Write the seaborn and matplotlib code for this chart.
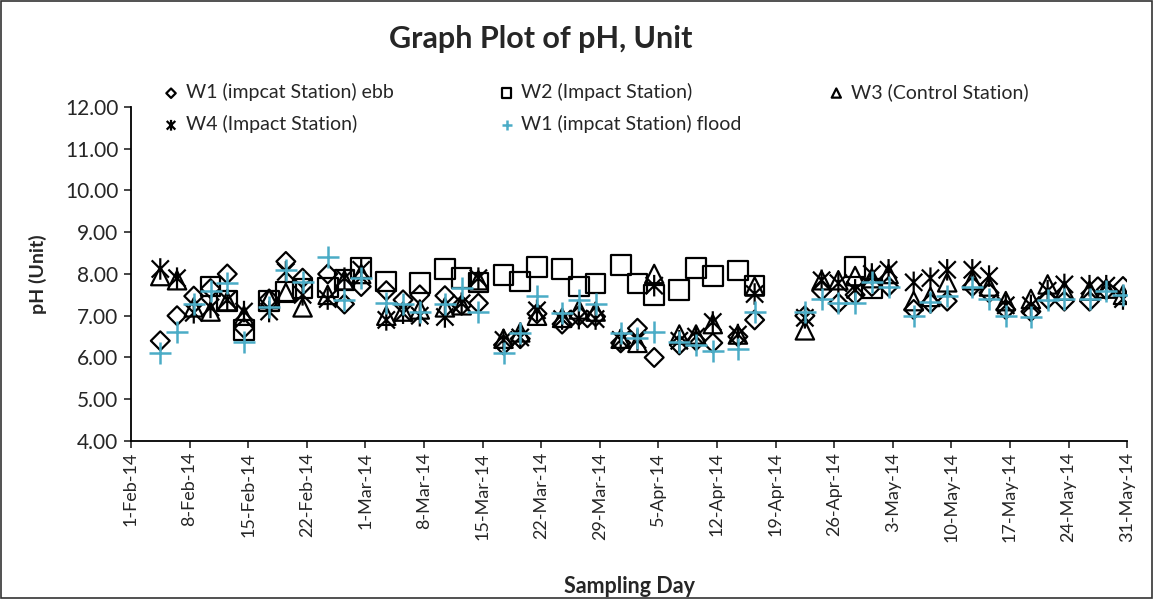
import numpy as np
import pandas as pd
import matplotlib
matplotlib.use("Agg")
import matplotlib.pyplot as plt
import matplotlib.dates as mdates
from matplotlib.path import Path
from matplotlib.patches import Rectangle
from matplotlib.ticker import FormatStrFormatter
import seaborn as sns

nan = np.nan

dates = ["2014-02-04", "2014-02-06", "2014-02-08", "2014-02-10", "2014-02-12", "2014-02-14",
         "2014-02-17", "2014-02-19", "2014-02-21", "2014-02-24", "2014-02-26", "2014-02-28",
         "2014-03-03", "2014-03-05", "2014-03-07", "2014-03-10", "2014-03-12", "2014-03-14",
         "2014-03-17", "2014-03-19", "2014-03-21", "2014-03-24", "2014-03-26", "2014-03-28",
         "2014-03-31", "2014-04-02", "2014-04-04", "2014-04-07", "2014-04-09", "2014-04-11",
         "2014-04-14", "2014-04-16", "2014-04-22", "2014-04-24", "2014-04-26", "2014-04-28",
         "2014-04-30", "2014-05-02", "2014-05-05", "2014-05-07", "2014-05-09", "2014-05-12",
         "2014-05-14", "2014-05-16", "2014-05-19", "2014-05-21", "2014-05-23", "2014-05-26",
         "2014-05-28", "2014-05-30"]

w1_ebb = [6.40, 7.00, 7.47, 7.65, 8.00, 6.70, 7.40, 8.30, 7.90, 8.00, 7.28, 7.70,
          7.60, 7.38, 7.50, 7.48, 7.25, 7.30, 6.30, 6.45, 7.05, 6.80, 7.00, 6.98,
          6.35, 6.70, 6.00, 6.30, 6.40, 6.35, 6.50, 6.90, 7.00, 7.60, 7.30, 7.50,
          7.70, 7.70, 7.15, 7.30, 7.35, 7.70, 7.55, 7.15, 7.10, 7.40, 7.35, 7.35,
          7.62, 7.70]

w2_impact = [nan, nan, nan, 7.70, 7.35, 6.66, 7.35, 7.58, 7.65, 7.68, 7.85, 8.15,
             7.82, nan, 7.78, 8.12, 7.90, 7.80, 7.97, 7.82, 8.17, 8.12, 7.70, 7.77,
             8.22, 7.77, 7.50, 7.62, 8.15, 7.95, 8.08, 7.72, nan, nan, nan, 8.17,
             7.65, nan, nan, nan, nan, nan, nan, nan, nan, nan, nan, nan,
             nan, nan]

w3_control = [7.95, 7.85, 7.20, 7.10, 7.35, 7.00, 7.40, 7.55, 7.20, 7.50, 7.85, 8.00,
              7.00, 7.10, 7.15, 7.20, 7.25, 7.85, 6.45, 6.60, 7.00, 6.95, 7.15, 7.10,
              6.45, 6.35, 8.00, 6.55, 6.55, 6.80, 6.55, 7.70, 6.65, 7.85, 7.85, 7.95,
              7.90, 8.00, 7.35, 7.45, 7.80, 7.85, 7.70, 7.35, 7.40, 7.75, 7.60, 7.60,
              7.65, 7.50]

w4_impact = [8.12, 7.90, 7.07, 7.20, 7.38, 7.10, 7.10, 8.05, 7.50, 7.40, 7.90, 8.10,
             6.90, 7.06, 7.00, 6.97, 7.30, 7.90, 6.42, 6.48, 7.13, 6.92, 6.93, 6.92,
             6.42, 6.42, 7.72, 6.40, 6.50, 6.85, 6.55, 7.52, 6.95, 7.85, 7.78, 7.62,
             8.00, 8.10, 7.80, 7.90, 8.10, 8.10, 7.95, 7.25, 7.25, 7.60, 7.75, 7.72,
             7.72, 7.40]

w1_flood = [6.10, 6.60, 7.28, 7.60, 7.78, 6.38, 7.20, 8.10, 7.80, 8.40, 7.38, 7.90,
            7.30, 7.28, 7.10, 7.28, 7.67, 7.10, 6.10, 6.58, 7.48, 7.07, 7.38, 7.28,
            6.58, 6.47, 6.60, 6.38, 6.30, 6.15, 6.20, 7.10, 7.08, 7.40, 7.30, 7.30,
            7.80, 7.68, 7.00, 7.32, 7.47, 7.68, 7.40, 7.00, 6.98, 7.38, 7.40, 7.40,
            7.60, 7.50]

labels = ["W1 (impcat Station) ebb", "W2 (Impact Station)", "W3 (Control Station)",
          "W4 (Impact Station)", "W1 (impcat Station) flood"]

yticks = [4, 5, 6, 7, 8, 9, 10, 11, 12]

sns.set_style("white")
plt.rcParams["font.family"] = ["Lato", "DejaVu Sans"]

fig = plt.figure(figsize=(11.53, 5.99), dpi=100)
ax = fig.add_axes([0.1136, 0.2638, 0.864, 0.5576])

# Excel places points in the middle of each day slot
x = pd.to_datetime(pd.Series(dates)) + pd.Timedelta(hours=12)

star = Path([(-1, -1), (1, 1), (-1, 1), (1, -1), (0, -1.25), (0, 1.25)],
            [Path.MOVETO, Path.LINETO] * 3)

cyan = "#4BACC6"
specs = [
    (w1_ebb, "D", 92, "black"),
    (w2_impact, "s", 200, "black"),
    (w3_control, "^", 175, "black"),
    (w4_impact, star, 240, "black"),
    (w1_flood, "+", 240, cyan),
]

for (vals, mk, size, col), lab in zip(specs, labels):
    d = pd.DataFrame({"date": x, "ph": vals}).dropna()
    if col == cyan:
        sns.scatterplot(data=d, x="date", y="ph", marker=mk, s=size, color=cyan,
                        linewidth=1.8, ax=ax, label=lab, zorder=3)
    else:
        sns.scatterplot(data=d, x="date", y="ph", marker=mk, s=size,
                        facecolor="none", edgecolor="black", linewidth=1.6,
                        ax=ax, label=lab, zorder=3)

h, l = ax.get_legend_handles_labels()
ax.get_legend().remove()

ax.set_xlim(pd.Timestamp("2014-02-01"), pd.Timestamp("2014-05-31"))
ax.set_ylim(4, 12)
ax.set_yticks(yticks)
ax.yaxis.set_major_formatter(FormatStrFormatter("%.2f"))
xt = pd.date_range("2014-02-01", "2014-05-31", freq="7D")
ax.set_xticks(xt)
ax.xaxis.set_major_formatter(mdates.DateFormatter("%-d-%b-%y"))
for lbl in ax.get_xticklabels():
    lbl.set_rotation(90)

ax.tick_params(axis="y", labelsize=15, length=5, width=1.2, direction="out", left=True, pad=4)
ax.tick_params(axis="x", labelsize=13, length=5, width=1.2, direction="out", bottom=True, pad=3)
for s in ["top", "right"]:
    ax.spines[s].set_visible(False)
for s in ["left", "bottom"]:
    ax.spines[s].set_color("black")
    ax.spines[s].set_linewidth(1.3)

ax.set_xlabel("Sampling Day", fontsize=15.5, fontweight="bold", labelpad=24)
ax.set_ylabel("pH (Unit)", fontsize=14, fontweight="bold", labelpad=13)
fig.text(0.469, 0.935, "Graph Plot of pH, Unit", fontsize=22, fontweight="bold",
         ha="center", va="center")

# Legend laid out in three columns like the reference
cols = [([0, 3], 0.134), ([1, 4], 0.425), ([2], 0.711)]
for idx, xpos in cols:
    fig.legend([h[i] for i in idx], [l[i] for i in idx], loc="upper left",
               bbox_to_anchor=(xpos, 0.874), frameon=False, fontsize=14,
               markerscale=0.5, handletextpad=0.3, labelspacing=0.72,
               borderaxespad=0, handlelength=0.9)

fig.patches.append(Rectangle((0.001, 0.001), 0.998, 0.997, transform=fig.transFigure,
                             fill=False, edgecolor="#333333", linewidth=1.2))

fig.savefig("out.png", dpi=100, facecolor="white")
